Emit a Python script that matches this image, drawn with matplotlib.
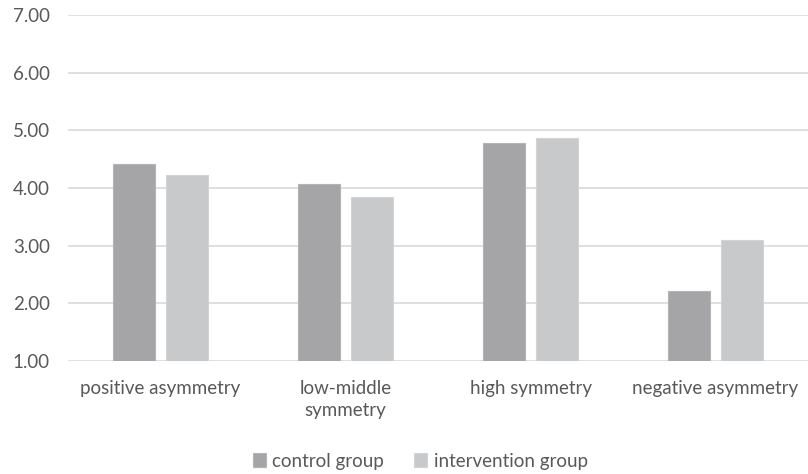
import numpy as np
import matplotlib.pyplot as plt

categories = ["positive asymmetry", "low-middle\nsymmetry", "high symmetry", "negative asymmetry"]
control = [4.41, 4.07, 4.78, 2.21]
intervention = [4.23, 3.85, 4.87, 3.10]
yticks = [1, 2, 3, 4, 5, 6, 7]

plt.rcParams['font.family'] = ['Lato', 'DejaVu Sans']
txt = '#595959'

fig = plt.figure(figsize=(8.08, 4.74), dpi=100)
ax = fig.add_axes([68/808, 113/474, 740/808, 346/474])

x = np.arange(len(categories))
w = 0.227
off = 0.143
ax.bar(x - off, control, w, bottom=0, color='#a5a5a7', edgecolor='#b4b4b6', linewidth=0.8,
       label='control group', zorder=3)
ax.bar(x + off, intervention, w, bottom=0, color='#c8c9ca', edgecolor='#d4d4d5', linewidth=0.8,
       label='intervention group', zorder=3)

ax.set_ylim(1, 7)
ax.set_xlim(-0.5, 3.5)
ax.set_yticks(yticks)
ax.set_yticklabels(['%.2f' % t for t in yticks])
ax.set_xticks(x)
ax.set_xticklabels(categories, linespacing=1.3)
ax.grid(axis='y', color='#d9d9d9', linewidth=1.2, zorder=0)
for s in ax.spines.values():
    s.set_visible(False)
ax.tick_params(length=0, labelsize=13.5, colors=txt)
ax.tick_params(axis='x', pad=14)
ax.tick_params(axis='y', pad=13)

leg = fig.legend(loc='center', bbox_to_anchor=(0.52, 1 - 461/474), ncol=2, frameon=False,
                 fontsize=13.5, handlelength=0.7, handleheight=0.7, columnspacing=1.6, handletextpad=0.35)
for t in leg.get_texts():
    t.set_color(txt)

fig.savefig('out.png', dpi=100)
